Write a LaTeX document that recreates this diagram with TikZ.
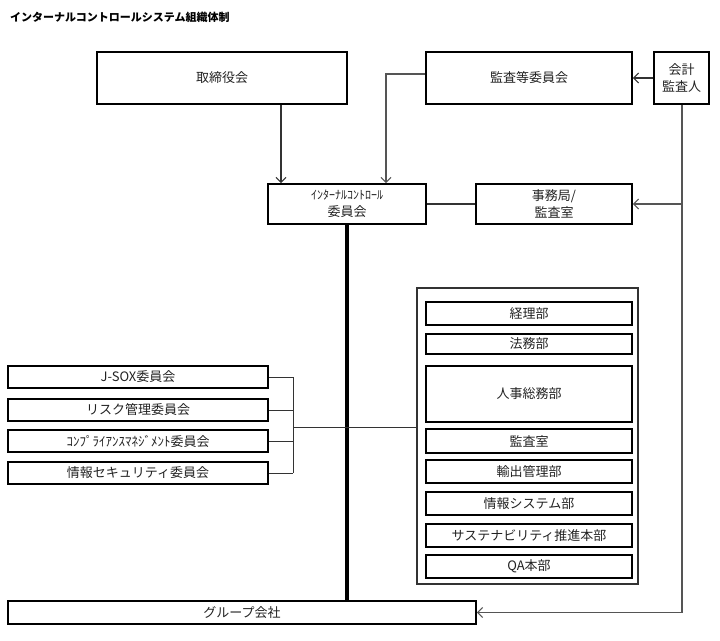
\documentclass[tikz,border=0pt]{standalone}
\usepackage{fontspec}
\newfontfamily\jp{Noto Sans CJK JP}
\usetikzlibrary{arrows.meta,calc}
\definecolor{txt}{HTML}{222222}
\definecolor{conn}{HTML}{333333}
\definecolor{connl}{HTML}{555555}
\begin{document}
\begin{tikzpicture}[x=1pt,y=-1pt,
  box/.style={draw=black,line width=1.8pt,inner sep=0pt,align=center,text=txt,
    font=\jp\fontsize{13}{17}\selectfont},
  outerbox/.style={draw=conn,line width=1.3pt,inner sep=0pt},
  conline/.style={draw=conn,line width=1.2pt},
  lconline/.style={draw=connl,line width=1.1pt},
  arr/.style={-{Straight Barb[length=5pt,width=10pt,line width=1.1pt]}},
  title/.style={anchor=west,inner sep=0pt,text=black,font=\jp\bfseries\fontsize{11}{13}\selectfont}]
\useasboundingbox (0,0) rectangle (720,640);
\node[title] (ttl) at (10,17) {インターナルコントロールシステム組織体制};
% top row
\node[box,minimum width=250,minimum height=52] (tori) at (222,78) {取締役会};
\node[box,minimum width=206,minimum height=52] (kansa) at (529,78) {監査等委員会};
\node[box,minimum width=55,minimum height=52] (kaikei) at (681.5,78) {会計\\監査人};
% second row
\node[box,minimum width=158,minimum height=40] (ic) at (347,204) {{\fontsize{12}{15}\selectfont ｲﾝﾀｰﾅﾙｺﾝﾄﾛｰﾙ}\\委員会};
\node[box,minimum width=156,minimum height=40] (jimu) at (554,204) {事務局/\\監査室};
% left committees
\node[box,minimum width=260,minimum height=22] (jsox) at (138,377) {J-SOX委員会};
\node[box,minimum width=260,minimum height=22] (risk) at (138,410) {リスク管理委員会};
\node[box,minimum width=260,minimum height=22] (comp) at (138,441) {ｺﾝﾌﾟﾗｲｱﾝｽﾏﾈｼﾞﾒﾝﾄ委員会};
\node[box,minimum width=260,minimum height=22] (sec) at (138,473) {情報セキュリティ委員会};
% departments
\node[outerbox,minimum width=221,minimum height=296] (dept) at (527.5,436) {};
\node[box,minimum width=206,minimum height=23] (d1) at (529,313.5) {経理部};
\node[box,minimum width=206,minimum height=20] (d2) at (529,344) {法務部};
\node[box,minimum width=206,minimum height=56] (d3) at (529,394) {人事総務部};
\node[box,minimum width=206,minimum height=24] (d4) at (529,441) {監査室};
\node[box,minimum width=206,minimum height=23] (d5) at (529,471.5) {輸出管理部};
\node[box,minimum width=206,minimum height=23] (d6) at (529,503.5) {情報システム部};
\node[box,minimum width=206,minimum height=23] (d7) at (529,535.5) {サステナビリティ推進本部};
\node[box,minimum width=206,minimum height=23] (d8) at (529,566.5) {QA本部};
% group company
\node[box,minimum width=468,minimum height=23] (grp) at (242,612.5) {グループ会社};
% connectors
\coordinate (a1) at (281,0);
\draw[conline,line width=1.6pt,arr] (tori.south -| a1) -- (ic.north -| a1);
\coordinate (k1) at (386,74);
\draw[lconline,arr] (kansa.west |- k1) -- (k1) -- (ic.north -| k1);
\draw[conline,line width=1.6pt,arr] (kaikei.west) -- (kansa.east);
\draw[conline] (ic.east) -- (jimu.west);
\coordinate (v1) at (682,0);
\draw[lconline,arr] (kaikei.south -| v1) -- (v1 |- grp.east) -- (grp.east);
\draw[lconline,arr] (v1 |- jimu.east) -- (jimu.east);
\draw[draw=black,line width=3.5pt] (ic.south) -- (ic.south |- grp.north);
\coordinate (b1) at (293,427);
\foreach \n in {jsox,risk,comp,sec} \draw[conline,line width=1pt] (\n.east) -- (\n.east -| b1);
\draw[conline,line width=1pt] (jsox.east -| b1) -- (sec.east -| b1);
\draw[conline,line width=1pt] (b1) -- (dept.west |- b1);
\end{tikzpicture}
\end{document}
